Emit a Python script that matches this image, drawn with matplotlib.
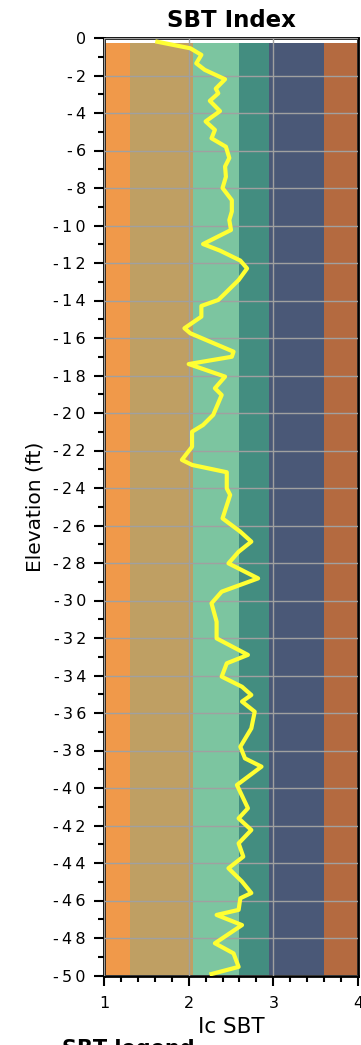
import matplotlib
matplotlib.use("Agg")
import matplotlib.pyplot as plt
import numpy as np
from matplotlib.ticker import MultipleLocator, FixedLocator

# SBT zone boundaries (Ic) and colours
zone_edges = [1.0, 1.31, 2.05, 2.60, 2.95, 3.60, 4.0]
zone_colors = ["#F0994A", "#BF9F63", "#7CC5A0", "#438D80", "#4A5877", "#B46A40"]
zone_top = -0.25
zone_bottom = -49.95

# Ic SBT profile
depth = [-0.2, -0.55, -0.9, -1.35, -1.7, -2.2, -2.7, -2.95, -3.35, -3.9,
         -4.45, -4.9, -5.35, -5.8, -6.4, -6.85, -7.4, -8.0, -8.65, -9.25,
         -9.71, -10.24, -10.99, -11.34, -11.87, -12.29, -12.91, -13.71, -13.97, -14.29,
         -14.86, -15.48, -15.75, -16.73, -17.0, -17.39, -18.06, -18.68, -19.04, -20.1,
         -20.64, -21.0, -21.8, -22.5, -22.77, -23.16, -24.02, -24.37, -25.62, -26.33,
         -26.86, -27.4, -28.02, -28.82, -29.53, -30.15, -31.13, -32.02, -32.9, -33.35,
         -34.06, -34.6, -35.04, -35.39, -35.93, -36.82, -37.8, -38.42, -38.86, -39.84,
         -41.08, -41.62, -42.24, -42.95, -43.66, -44.28, -44.99, -45.6, -45.88, -46.5,
         -46.77, -47.31, -48.28, -48.82, -49.54, -49.92]
ic_sbt = [1.63, 2.02, 2.15, 2.09, 2.19, 2.43, 2.32, 2.35, 2.25, 2.37,
          2.20, 2.31, 2.27, 2.44, 2.48, 2.43, 2.44, 2.40, 2.51, 2.51,
          2.48, 2.50, 2.17, 2.37, 2.61, 2.69, 2.59, 2.41, 2.35, 2.15,
          2.15, 1.95, 2.02, 2.53, 2.51, 2.00, 2.43, 2.31, 2.39, 2.29,
          2.17, 2.04, 2.04, 1.92, 2.04, 2.45, 2.45, 2.49, 2.40, 2.61,
          2.74, 2.59, 2.47, 2.82, 2.39, 2.27, 2.33, 2.33, 2.70, 2.45,
          2.39, 2.63, 2.74, 2.63, 2.78, 2.74, 2.61, 2.665, 2.86, 2.57,
          2.70, 2.59, 2.74, 2.59, 2.645, 2.47, 2.63, 2.74, 2.61, 2.59,
          2.33, 2.63, 2.31, 2.53, 2.59, 2.27]

y_ticks = list(range(0, -51, -2))
x_ticks = [1, 2, 3, 4]


def spaced(v):
    # wide letter spacing like the original tick labels
    return "\u2009".join(str(v))


fig = plt.figure(figsize=(3.61, 10.45), dpi=100)
ax = fig.add_axes([104 / 361, 1 - 975.5 / 1045, 254 / 361, 937.5 / 1045])

# coloured SBT zones
for i in range(len(zone_colors)):
    ax.fill_betweenx([zone_bottom, zone_top], zone_edges[i], zone_edges[i + 1],
                     color=zone_colors[i], linewidth=0, zorder=1)

ax.plot(ic_sbt, depth, color="#FFFF33", linewidth=3, solid_joinstyle="round", zorder=3)

ax.set_xlim(1, 4)
ax.set_ylim(-50, 0)
ax.xaxis.set_major_locator(FixedLocator(x_ticks))
ax.xaxis.set_minor_locator(MultipleLocator(0.2))
ax.yaxis.set_major_locator(FixedLocator(y_ticks))
ax.yaxis.set_minor_locator(MultipleLocator(1))
ax.set_yticklabels([spaced(v) for v in y_ticks])
ax.set_xticklabels([str(v) for v in x_ticks])

ax.set_axisbelow(False)
ax.grid(True, which="major", color="#A0A0A0", linewidth=1.0, zorder=2)

ax.tick_params(which="major", length=7, width=1.5, labelsize=11.5, direction="out")
ax.tick_params(which="minor", length=4, width=1.5, direction="out")
ax.tick_params(axis="x", pad=8)
ax.tick_params(axis="y", pad=6)
for spine in ax.spines.values():
    spine.set_linewidth(2)

ax.set_title("SBT Index", fontsize=16.5, fontweight="bold", pad=8)
ax.set_xlabel("Ic SBT", fontsize=15.5, labelpad=4)
ax.set_ylabel("Elevation (ft)", fontsize=14.5, labelpad=6)

fig.text(62 / 361, 6 / 1045, "SBT legend", fontsize=15, fontweight="bold", va="top")

fig.savefig("out.png", dpi=100)
